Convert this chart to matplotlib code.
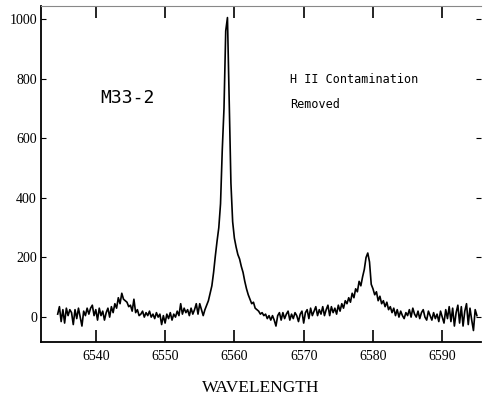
import numpy as np
import matplotlib.pyplot as plt

# wavelength grid of the spectrum, 0.25 A steps
wave = np.arange(6534.5, 6595.01, 0.25)

# intensity, 8 samples (2 A) per row
flux = [
    10, 35, -15, 25, -20, 30, 5, 25,
    15, -25, 25, -5, 30, 0, -30, 20,
    5, 30, 10, 30, 40, 5, 25, -10,
    30, 5, 20, -10, 15, 30, 0, 35,
    15, 45, 30, 65, 45, 80, 60, 55,
    50, 35, 40, 20, 60, 15, 25, 5,
    10, 20, 0, 15, 5, 20, 0, 10,
    -5, 15, 0, 10, -25, 5, -20, 10,
    -5, 15, -10, 10, 0, 20, 5, 45,
    10, 30, 15, 25, 5, 30, 10, 25,
    45, 10, 45, 25, 5, 25, 40, 55,
    80, 105, 150, 205, 255, 300, 380, 560,
    700, 960, 1005, 720, 450, 320, 265, 235,
    210, 195, 170, 150, 120, 95, 75, 60,
    45, 50, 30, 25, 20, 10, 15, 5,
    10, -5, 5, -10, 5, -10, -30, 5,
    15, -10, 15, -5, 10, 20, -10, 10,
    -5, 15, 5, -15, 10, 20, -20, 15,
    25, -5, 30, 5, 20, 35, 5, 25,
    10, 35, 5, 25, 40, 5, 35, 15,
    30, 10, 40, 20, 45, 30, 55, 45,
    65, 50, 80, 65, 95, 85, 120, 105,
    135, 160, 200, 215, 185, 110, 95, 75,
    85, 55, 70, 45, 55, 35, 50, 25,
    35, 15, 30, 5, 25, 0, 20, 5,
    -5, 15, 5, 25, 0, 30, 10, 0,
    20, -5, 15, 25, 0, -10, 20, 5,
    -10, 15, -5, 10, -15, 20, 0, -20,
    25, -5, 35, -15, 30, -30, 15, 40,
    -20, 35, -30, 20, 45, -25, 30, -10,
    -45, 25, 5,
]

xticks = [6540, 6550, 6560, 6570, 6580, 6590]
yticks = [0, 200, 400, 600, 800, 1000]

fig = plt.figure(figsize=(4.83, 3.96), dpi=100)
ax = fig.add_axes([0.085, 0.136, 0.911, 0.849])

ax.plot(wave, flux, color='black', lw=1.2)

ax.set_xlim(6532.1, 6595.6)
ax.set_ylim(-84, 1044)
ax.set_xticks(xticks)
ax.set_yticks(yticks)

serif = 'Liberation Serif'
ax.tick_params(axis='x', direction='in', length=8.5, width=1.2, top=True, pad=6,
               labelsize=10)
ax.tick_params(axis='y', direction='in', length=3.5, width=0.8, right=True, pad=3,
               labelsize=10)
for lab in ax.get_xticklabels() + ax.get_yticklabels():
    lab.set_family(serif)

for s in ['left', 'bottom']:
    ax.spines[s].set_linewidth(1.3)
ax.spines['top'].set_linewidth(0.8)
ax.spines['top'].set_color('#888888')
ax.spines['right'].set_visible(False)

ax.set_xlabel('WAVELENGTH', family=serif, fontsize=12.5, labelpad=12)

ax.text(6540.6, 734, 'M33-2', family='DejaVu Sans Mono', fontsize=13, va='center')
ax.text(6568.0, 797, 'H II Contamination', family='DejaVu Sans Mono', fontsize=8.5,
        va='center')
ax.text(6568.0, 714, 'Removed', family='DejaVu Sans Mono', fontsize=8.5, va='center')

fig.savefig('out.png', dpi=100)
